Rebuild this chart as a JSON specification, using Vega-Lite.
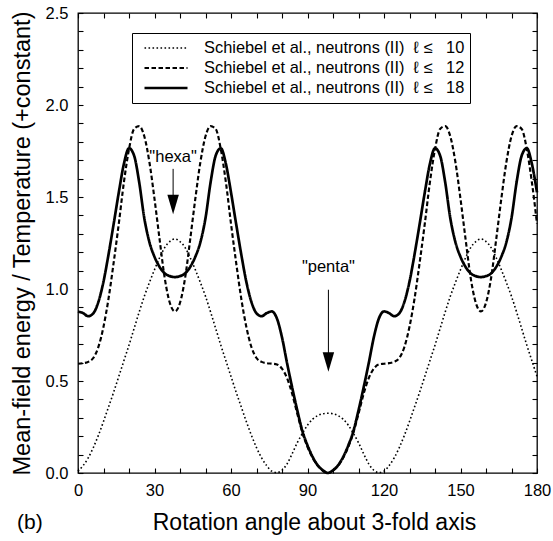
{
  "$schema": "https://vega.github.io/schema/vega-lite/v6.json",
  "width": 459,
  "height": 460,
  "autosize": {"type": "none"},
  "padding": {"left": 78, "top": 13, "right": 16, "bottom": 68},
  "background": "white",
  "config": {
    "view": {"stroke": "black", "strokeWidth": 1.3},
    "font": "Liberation Sans",
    "axis": {"labelFont": "Liberation Sans", "titleFont": "Liberation Sans", "labelColor": "black", "titleColor": "black", "tickColor": "black", "domain": false, "grid": false, "titleFontWeight": "normal", "labelFlush": false, "labelOverlap": false, "tickWidth": 1.1, "tickSize": -5}
  },
  "datasets": {
    "curves": [
      {"a":0,"l10":0.010,"l12":0.594,"l18":0.878},
      {"a":2,"l10":0.040,"l12":0.597,"l18":0.869},
      {"a":4,"l10":0.082,"l12":0.604,"l18":0.852},
      {"a":6,"l10":0.138,"l12":0.625,"l18":0.868},
      {"a":8,"l10":0.205,"l12":0.685,"l18":0.930},
      {"a":10,"l10":0.280,"l12":0.795,"l18":1.040},
      {"a":12,"l10":0.360,"l12":0.950,"l18":1.190},
      {"a":14,"l10":0.440,"l12":1.145,"l18":1.355},
      {"a":16,"l10":0.525,"l12":1.355,"l18":1.525},
      {"a":18,"l10":0.610,"l12":1.580,"l18":1.680},
      {"a":20,"l10":0.695,"l12":1.760,"l18":1.765},
      {"a":22,"l10":0.785,"l12":1.870,"l18":1.725},
      {"a":24,"l10":0.875,"l12":1.885,"l18":1.580},
      {"a":26,"l10":0.960,"l12":1.830,"l18":1.385},
      {"a":28,"l10":1.035,"l12":1.690,"l18":1.255},
      {"a":30,"l10":1.105,"l12":1.490,"l18":1.175},
      {"a":32,"l10":1.170,"l12":1.270,"l18":1.120},
      {"a":34,"l10":1.225,"l12":1.060,"l18":1.085},
      {"a":36,"l10":1.258,"l12":0.925,"l18":1.070},
      {"a":38,"l10":1.272,"l12":0.878,"l18":1.065},
      {"a":40,"l10":1.258,"l12":0.925,"l18":1.070},
      {"a":42,"l10":1.225,"l12":1.060,"l18":1.085},
      {"a":44,"l10":1.170,"l12":1.270,"l18":1.120},
      {"a":46,"l10":1.105,"l12":1.490,"l18":1.175},
      {"a":48,"l10":1.035,"l12":1.690,"l18":1.255},
      {"a":50,"l10":0.960,"l12":1.830,"l18":1.385},
      {"a":52,"l10":0.875,"l12":1.885,"l18":1.580},
      {"a":54,"l10":0.785,"l12":1.870,"l18":1.725},
      {"a":56,"l10":0.695,"l12":1.760,"l18":1.765},
      {"a":58,"l10":0.610,"l12":1.580,"l18":1.680},
      {"a":60,"l10":0.525,"l12":1.355,"l18":1.525},
      {"a":62,"l10":0.440,"l12":1.145,"l18":1.355},
      {"a":64,"l10":0.360,"l12":0.950,"l18":1.190},
      {"a":66,"l10":0.280,"l12":0.795,"l18":1.040},
      {"a":68,"l10":0.205,"l12":0.685,"l18":0.930},
      {"a":70,"l10":0.138,"l12":0.625,"l18":0.868},
      {"a":72,"l10":0.082,"l12":0.604,"l18":0.852},
      {"a":74,"l10":0.040,"l12":0.597,"l18":0.869},
      {"a":76,"l10":0.010,"l12":0.594,"l18":0.878},
      {"a":78,"l10":0.002,"l12":0.590,"l18":0.840},
      {"a":80,"l10":0.015,"l12":0.567,"l18":0.737},
      {"a":82,"l10":0.050,"l12":0.515,"l18":0.596},
      {"a":84,"l10":0.105,"l12":0.430,"l18":0.464},
      {"a":86,"l10":0.165,"l12":0.322,"l18":0.340},
      {"a":88,"l10":0.215,"l12":0.220,"l18":0.228},
      {"a":90,"l10":0.260,"l12":0.142,"l18":0.150},
      {"a":92,"l10":0.292,"l12":0.083,"l18":0.088},
      {"a":94,"l10":0.312,"l12":0.040,"l18":0.042},
      {"a":96,"l10":0.322,"l12":0.012,"l18":0.015},
      {"a":98,"l10":0.325,"l12":0.000,"l18":0.000},
      {"a":100,"l10":0.322,"l12":0.012,"l18":0.015},
      {"a":102,"l10":0.312,"l12":0.040,"l18":0.042},
      {"a":104,"l10":0.292,"l12":0.083,"l18":0.088},
      {"a":106,"l10":0.260,"l12":0.142,"l18":0.150},
      {"a":108,"l10":0.215,"l12":0.220,"l18":0.228},
      {"a":110,"l10":0.165,"l12":0.322,"l18":0.340},
      {"a":112,"l10":0.105,"l12":0.430,"l18":0.464},
      {"a":114,"l10":0.050,"l12":0.515,"l18":0.596},
      {"a":116,"l10":0.015,"l12":0.567,"l18":0.737},
      {"a":118,"l10":0.002,"l12":0.590,"l18":0.840},
      {"a":120,"l10":0.010,"l12":0.594,"l18":0.878},
      {"a":122,"l10":0.040,"l12":0.597,"l18":0.869},
      {"a":124,"l10":0.082,"l12":0.604,"l18":0.852},
      {"a":126,"l10":0.138,"l12":0.625,"l18":0.868},
      {"a":128,"l10":0.205,"l12":0.685,"l18":0.930},
      {"a":130,"l10":0.280,"l12":0.795,"l18":1.040},
      {"a":132,"l10":0.360,"l12":0.950,"l18":1.190},
      {"a":134,"l10":0.440,"l12":1.145,"l18":1.355},
      {"a":136,"l10":0.525,"l12":1.355,"l18":1.525},
      {"a":138,"l10":0.610,"l12":1.580,"l18":1.680},
      {"a":140,"l10":0.695,"l12":1.760,"l18":1.765},
      {"a":142,"l10":0.785,"l12":1.870,"l18":1.725},
      {"a":144,"l10":0.875,"l12":1.885,"l18":1.580},
      {"a":146,"l10":0.960,"l12":1.830,"l18":1.385},
      {"a":148,"l10":1.035,"l12":1.690,"l18":1.255},
      {"a":150,"l10":1.105,"l12":1.490,"l18":1.175},
      {"a":152,"l10":1.170,"l12":1.270,"l18":1.120},
      {"a":154,"l10":1.225,"l12":1.060,"l18":1.085},
      {"a":156,"l10":1.258,"l12":0.925,"l18":1.070},
      {"a":158,"l10":1.272,"l12":0.878,"l18":1.065},
      {"a":160,"l10":1.258,"l12":0.925,"l18":1.070},
      {"a":162,"l10":1.225,"l12":1.060,"l18":1.085},
      {"a":164,"l10":1.170,"l12":1.270,"l18":1.120},
      {"a":166,"l10":1.105,"l12":1.490,"l18":1.175},
      {"a":168,"l10":1.035,"l12":1.690,"l18":1.255},
      {"a":170,"l10":0.960,"l12":1.830,"l18":1.385},
      {"a":172,"l10":0.875,"l12":1.885,"l18":1.580},
      {"a":174,"l10":0.785,"l12":1.870,"l18":1.725},
      {"a":176,"l10":0.695,"l12":1.760,"l18":1.765},
      {"a":178,"l10":0.610,"l12":1.580,"l18":1.680},
      {"a":180,"l10":0.525,"l12":1.355,"l18":1.525}
    ],
    "notes": [
      {"a": 37.3, "v": 1.716, "t": "\"hexa\""},
      {"a": 98.2, "v": 1.118, "t": "\"penta\""}
    ],
    "arrows": [
      {"a": 37.3, "top": 1.653, "bot": 1.50, "head": 1.459},
      {"a": 98.2, "top": 0.996, "bot": 0.65, "head": 0.603}
    ],
    "panel": [
      {"a": -18.9, "v": -0.27, "t": "(b)"}
    ]
  },
  "layer": [
    {
      "data": {"name": "curves"},
      "transform": [{"fold": ["l10", "l12", "l18"], "as": ["series", "v"]}],
      "mark": {"type": "line", "color": "black", "interpolate": "monotone"},
      "encoding": {
        "x": {
          "field": "a", "type": "quantitative",
          "scale": {"domain": [0, 180], "nice": false, "zero": false},
          "axis": {
            "orient": "bottom",
            "values": [0,10,20,30,40,50,60,70,80,90,100,110,120,130,140,150,160,170,180],
            "labelExpr": "datum.value % 30 === 0 ? datum.label : ''",
            "labelPadding": 14,
            "labelFontSize": 16.5,
            "title": "Rotation angle about 3-fold axis",
            "titleFontSize": 23,
            "titlePadding": 13,
            "titleX": 236
          }
        },
        "y": {
          "field": "v", "type": "quantitative",
          "scale": {"domain": [0, 2.5], "nice": false, "zero": false},
          "axis": {
            "orient": "left",
            "values": [0,0.1,0.2,0.3,0.4,0.5,0.6,0.7,0.8,0.9,1.0,1.1,1.2,1.3,1.4,1.5,1.6,1.7,1.8,1.9,2.0,2.1,2.2,2.3,2.4,2.5],
            "labelExpr": "abs(datum.value*2 - round(datum.value*2)) < 0.001 ? format(datum.value, '.1f') : ''",
            "labelPadding": 15,
            "labelFontSize": 16.5,
            "title": "Mean-field energy / Temperature (+constant)",
            "titleFontSize": 23.5,
            "titlePadding": 11
          }
        },
        "strokeDash": {
          "field": "series", "type": "ordinal",
          "scale": {"domain": ["l10", "l12", "l18"], "range": [[1.6, 2.4], [4.5, 2.5], [1, 0]]},
          "legend": {
            "title": null, "orient": "none", "legendX": 54, "legendY": 20,
            "padding": 5, "strokeColor": "black", "fillColor": "white",
            "symbolType": "stroke", "symbolSize": 1849, "symbolStrokeColor": "black",
            "symbolOffset": 6, "labelOffset": 15, "labelLimit": 0,
            "labelFont": "Liberation Sans", "labelFontSize": 16.4, "labelColor": "black",
            "clipHeight": 20, "rowPadding": 0,
            "labelExpr": "datum.label === 'l10' ? 'Schiebel et al., neutrons (II)\u00a0\u00a0ℓ\u00a0≤\u00a0\u00a0\u00a010' : datum.label === 'l12' ? 'Schiebel et al., neutrons (II)\u00a0\u00a0ℓ\u00a0≤\u00a0\u00a0\u00a012' : 'Schiebel et al., neutrons (II)\u00a0\u00a0ℓ\u00a0≤\u00a0\u00a0\u00a018'"
          }
        },
        "strokeWidth": {
          "field": "series", "type": "ordinal",
          "scale": {"domain": ["l10", "l12", "l18"], "range": [1.6, 2.7, 2.4]},
          "legend": {
            "title": null, "orient": "none", "legendX": 54, "legendY": 20,
            "padding": 5, "strokeColor": "black", "fillColor": "white",
            "symbolType": "stroke", "symbolSize": 1849, "symbolStrokeColor": "black",
            "symbolOffset": 6, "labelOffset": 15, "labelLimit": 0,
            "labelFont": "Liberation Sans", "labelFontSize": 16.4, "labelColor": "black",
            "clipHeight": 20, "rowPadding": 0,
            "labelExpr": "datum.label === 'l10' ? 'Schiebel et al., neutrons (II)\u00a0\u00a0ℓ\u00a0≤\u00a0\u00a0\u00a010' : datum.label === 'l12' ? 'Schiebel et al., neutrons (II)\u00a0\u00a0ℓ\u00a0≤\u00a0\u00a0\u00a012' : 'Schiebel et al., neutrons (II)\u00a0\u00a0ℓ\u00a0≤\u00a0\u00a0\u00a018'"
          }
        }
      }
    },
    {
      "data": {"name": "notes"},
      "mark": {"type": "text", "color": "black", "font": "Liberation Sans", "fontSize": 16.5, "baseline": "middle", "align": "center"},
      "encoding": {
        "x": {
          "field": "a", "type": "quantitative",
          "scale": {"domain": [0, 180], "nice": false, "zero": false},
          "axis": {
            "orient": "top", "labels": false, "title": null,
            "values": [0,10,20,30,40,50,60,70,80,90,100,110,120,130,140,150,160,170,180]
          }
        },
        "y": {
          "field": "v", "type": "quantitative",
          "scale": {"domain": [0, 2.5], "nice": false, "zero": false},
          "axis": {
            "orient": "right", "labels": false, "title": null,
            "values": [0,0.1,0.2,0.3,0.4,0.5,0.6,0.7,0.8,0.9,1.0,1.1,1.2,1.3,1.4,1.5,1.6,1.7,1.8,1.9,2.0,2.1,2.2,2.3,2.4,2.5]
          }
        },
        "text": {"field": "t", "type": "nominal"}
      }
    },
    {
      "data": {"name": "arrows"},
      "mark": {"type": "rule", "color": "black", "strokeWidth": 1},
      "encoding": {
        "x": {"field": "a", "type": "quantitative", "scale": {"domain": [0, 180], "nice": false, "zero": false}, "axis": null},
        "y": {"field": "top", "type": "quantitative", "scale": {"domain": [0, 2.5], "nice": false, "zero": false}, "axis": null},
        "y2": {"field": "bot"}
      }
    },
    {
      "data": {"name": "arrows"},
      "mark": {"type": "point", "shape": "M-1,-1.7L1,-1.7L0,1.7Z", "filled": true, "color": "black", "size": 132, "opacity": 1},
      "encoding": {
        "x": {"field": "a", "type": "quantitative", "scale": {"domain": [0, 180], "nice": false, "zero": false}, "axis": null},
        "y": {"field": "head", "type": "quantitative", "scale": {"domain": [0, 2.5], "nice": false, "zero": false}, "axis": null}
      }
    },
    {
      "data": {"name": "panel"},
      "mark": {"type": "text", "color": "black", "font": "Liberation Sans", "fontSize": 21, "baseline": "middle", "align": "center"},
      "encoding": {
        "x": {"field": "a", "type": "quantitative", "scale": {"domain": [0, 180], "nice": false, "zero": false}, "axis": null},
        "y": {"field": "v", "type": "quantitative", "scale": {"domain": [0, 2.5], "nice": false, "zero": false}, "axis": null},
        "text": {"field": "t", "type": "nominal"}
      }
    }
  ],
  "resolve": {"axis": {"x": "independent", "y": "independent"}}
}
